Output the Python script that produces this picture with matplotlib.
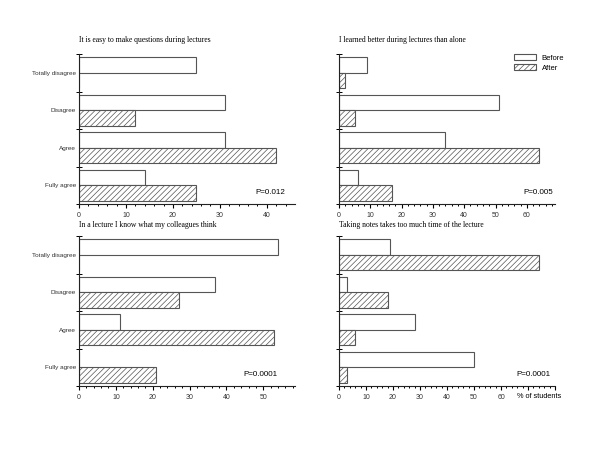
import matplotlib
matplotlib.use("Agg")
import matplotlib.pyplot as plt
import numpy as np

# categories, top to bottom as in the figure
categories = ["Totally disagree", "Disagree", "Agree", "Fully agree"]

titles = [
    "It is easy to make questions during lectures",
    "I learned better during lectures than alone",
    "In a lecture I know what my colleagues think",
    "Taking notes takes too much time of the lecture",
]
p_values = ["P=0.012", "P=0.005", "P=0.0001", "P=0.0001"]

before_q1 = [25, 31, 31, 14]
after_q1 = [0, 12, 42, 25]
before_q2 = [9, 51, 34, 6]
after_q2 = [2, 5, 64, 17]
before_q3 = [54, 37, 11, 0]
after_q3 = [0, 27, 53, 21]
before_q4 = [19, 3, 28, 50]
after_q4 = [74, 18, 6, 3]

x_max = [46, 69, 58.6, 80]
x_major = [[0, 10, 20, 30, 40], [0, 10, 20, 30, 40, 50, 60],
           [0, 10, 20, 30, 40, 50], [0, 10, 20, 30, 40, 50, 60, 70, 80]]

plt.rcParams["hatch.linewidth"] = 0.5
plt.rcParams["hatch.color"] = "#777777"
sans = "Liberation Sans"
serif = "Liberation Serif"
edge = "#555555"

fig = plt.figure(figsize=(6, 4.5), dpi=100)
boxes = [
    [79 / 600, 1 - 204 / 450, 216 / 600, 150 / 450],
    [339 / 600, 1 - 204 / 450, 216 / 600, 150 / 450],
    [79 / 600, 1 - 386 / 450, 216 / 600, 150 / 450],
    [339 / 600, 1 - 386 / 450, 216 / 600, 150 / 450],
]
data = [(before_q1, after_q1), (before_q2, after_q2),
        (before_q3, after_q3), (before_q4, after_q4)]
p_pos = [(0.954, 0.075), (0.99, 0.075), (0.917, 0.08), (0.98, 0.08)]

h = 0.41
for k, (box, (bef, aft)) in enumerate(zip(boxes, data)):
    ax = fig.add_axes(box)
    y = np.arange(len(categories))[::-1]  # top category gets highest y
    ax.barh(y + h / 2, bef, height=h, color="white", edgecolor=edge,
            linewidth=0.8, label="Before")
    ax.barh(y - h / 2, aft, height=h, color="white", edgecolor=edge,
            linewidth=0.8, hatch="//////", label="After")

    ax.set_xlim(0, x_max[k])
    ax.set_ylim(-0.5, 3.5)
    for s in ["top", "right"]:
        ax.spines[s].set_visible(False)
    for s in ["left", "bottom"]:
        ax.spines[s].set_linewidth(0.8)
        ax.spines[s].set_color("#222222")

    ax.set_xticks(x_major[k])
    labels = [str(v) if v <= 60 else "" for v in x_major[k]]
    ax.set_xticklabels(labels, fontsize=5, family=sans, color="#333333")
    ax.set_xticks(np.arange(0, x_max[k], 2), minor=True)
    ax.tick_params(axis="x", which="major", direction="out", length=3,
                   width=0.8, pad=2.5)
    ax.tick_params(axis="x", which="minor", direction="out", length=1.6,
                   width=0.7)

    ax.set_yticks(y)
    if k % 2 == 0:
        ax.set_yticklabels(categories, fontsize=4.6, family=sans,
                           color="#333333")
    else:
        ax.set_yticklabels([])
    ax.set_yticks(np.arange(-0.5, 3.6, 1.0), minor=True)
    ax.tick_params(axis="y", which="major", length=0, pad=2)
    ax.tick_params(axis="y", which="minor", direction="inout", length=4,
                   width=0.7)

    ax.set_title(titles[k], loc="left", fontsize=5.5, family=serif,
                 pad=8.5 if k < 2 else 6.5)
    ax.text(p_pos[k][0], p_pos[k][1], p_values[k], transform=ax.transAxes,
            ha="right", va="center", fontsize=5.8, family=sans)

    if k == 1:
        ax.legend(loc="upper left", bbox_to_anchor=(0.78, 1.045),
                  frameon=False, handlelength=2.8, handleheight=0.8,
                  labelspacing=0.3, handletextpad=0.8,
                  prop={"family": sans, "size": 5.5})
    if k == 3:
        ax.text(74, -0.045, "% of students", transform=ax.get_xaxis_transform(),
                ha="center", va="top", fontsize=5.3, family=sans)

fig.savefig("out.png", dpi=100)
